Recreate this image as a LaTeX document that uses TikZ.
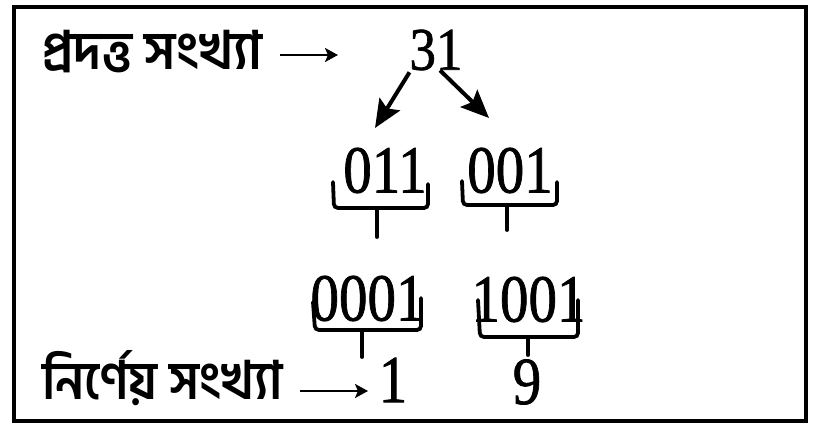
\documentclass[tikz,border=0pt]{standalone}
\usepackage{fontspec}
\setmainfont{Liberation Serif}
\newfontfamily\digfont[FakeBold=1.2]{Liberation Serif}
\newfontfamily\bnfont[Script=Bengali]{Hind Siliguri}
\usetikzlibrary{arrows.meta,calc}
\newcommand{\dg}[1]{\scalebox{1}[1.18]{\digfont\fontsize{57}{60}\selectfont #1}}
\newcommand{\dgs}[1]{\scalebox{1}[1.14]{\digfont\fontsize{53}{56}\selectfont #1}}
\newcommand{\bntext}[2]{\scalebox{#1}[1.02]{\bnfont\bfseries\fontsize{52}{56}\selectfont #2}}
\tikzset{
  num/.style={inner sep=0pt, outer sep=0pt},
  lbl/.style={inner sep=0pt, outer sep=0pt, anchor=base west},
  frame/.style={line width=3.5pt},
  bigarrow/.style={line width=4pt, -{Stealth[length=28pt,width=24pt,inset=5pt]}},
  txtarrow/.style={line width=2.6pt, -{Stealth[length=13pt,width=14pt,inset=3pt]}},
  brc/.style={line width=3.8pt, rounded corners=4pt, line cap=round}
}
\begin{document}
\begin{tikzpicture}[x=1pt,y=-1pt]
\useasboundingbox (0,0) rectangle (815,426);
\draw[frame] (14,7) rectangle (806,421);

% labels
\node[lbl] (lbl1) at (42,69) {\bntext{1}{প্রদত্ত সংখ্যা}};
\node[lbl] (lbl2) at (42,399) {\bntext{0.96}{নির্ণেয় সংখ্যা}};

% numbers
\node[num] (n31) at (436,50) {\dgs{31}};
\node[num] (n011) at (385,170.5) {\dg{011}};
\node[num] (n001) at (510,170.5) {\dg{001}};
\node[num] (n0001) at (367.5,298.5) {\dg{0001}};
\node[num] (n1001) at (528.5,299.5) {\dg{1001}};
\node[num] (n1) at (393,380) {\dg{1}};
\node[num] (n9) at (527,382) {\dg{9}};

% text arrows
\coordinate (ta1) at (280,55);
\coordinate (ta2) at (338,55);
\draw[txtarrow] (ta1) -- (ta2);
\coordinate (tb1) at (300,391);
\coordinate (tb2) at (368,391);
\draw[txtarrow] (tb1) -- (tb2);

% arrows from 31
\coordinate (t1) at (375,128);
\coordinate (t2) at (489,118);
\draw[bigarrow] ($(n31.south west)+(0,2)$) -- (t1);
\draw[bigarrow] ($(n31.south)+(4,0)$) -- (t2);

% braces
\draw[brc] (333,182) -- (334,208) -- (377,208) -- (428,208) -- (428,184);
\draw[brc] (377,208) -- (377,237);
\draw[brc] (462,181) -- (463,205) -- (507,205) -- (557,205) -- (557,182);
\draw[brc] (507,205) -- (507,230);
\draw[brc] (313,302) -- (315,330) -- (362,330) -- (421,330) -- (421,298);
\draw[brc] (362,330) -- (362,357);
\draw[brc] (478,300) -- (480,337) -- (528,337) -- (578,337) -- (578,300);
\draw[brc] (528,337) -- (528,355);
\end{tikzpicture}
\end{document}
